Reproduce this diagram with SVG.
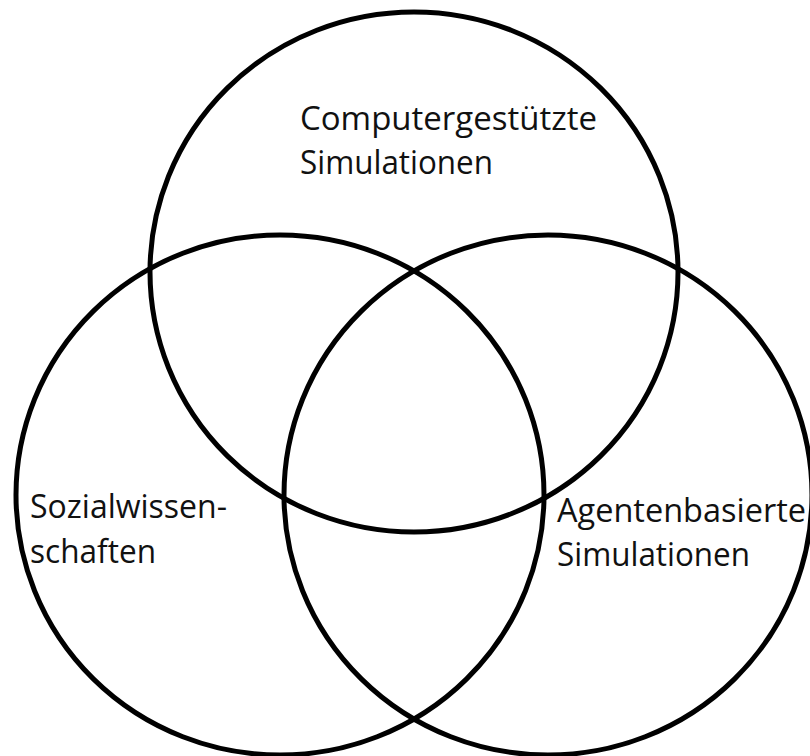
<svg xmlns="http://www.w3.org/2000/svg" width="810" height="756" viewBox="0 0 810 756">
  <style>
    .ring { fill: none; stroke: #000; stroke-width: 5; }
    .label { font-family: "Open Sans", "Noto Sans", "DejaVu Sans", sans-serif; font-size: 32px; fill: #111; }
  </style>
  <rect width="810" height="756" fill="#fff"/>
  <g id="computergestuetzte">
    <ellipse class="ring" cx="414" cy="272" rx="264" ry="260"/>
    <text class="label" x="300" y="130" textLength="297" lengthAdjust="spacingAndGlyphs">Computergestützte</text>
    <text class="label" x="300" y="174" textLength="193" lengthAdjust="spacingAndGlyphs">Simulationen</text>
  </g>
  <g id="sozialwissenschaften">
    <ellipse class="ring" cx="280" cy="495" rx="264" ry="260"/>
    <text class="label" x="30" y="518" textLength="197" lengthAdjust="spacingAndGlyphs">Sozialwissen-</text>
    <text class="label" x="30" y="563" textLength="126" lengthAdjust="spacingAndGlyphs">schaften</text>
  </g>
  <g id="agentenbasierte">
    <ellipse class="ring" cx="548" cy="495" rx="264" ry="260"/>
    <text class="label" x="557" y="522" textLength="249" lengthAdjust="spacingAndGlyphs">Agentenbasierte</text>
    <text class="label" x="557" y="566" textLength="193" lengthAdjust="spacingAndGlyphs">Simulationen</text>
  </g>
  <g id="connectors"/>
</svg>
